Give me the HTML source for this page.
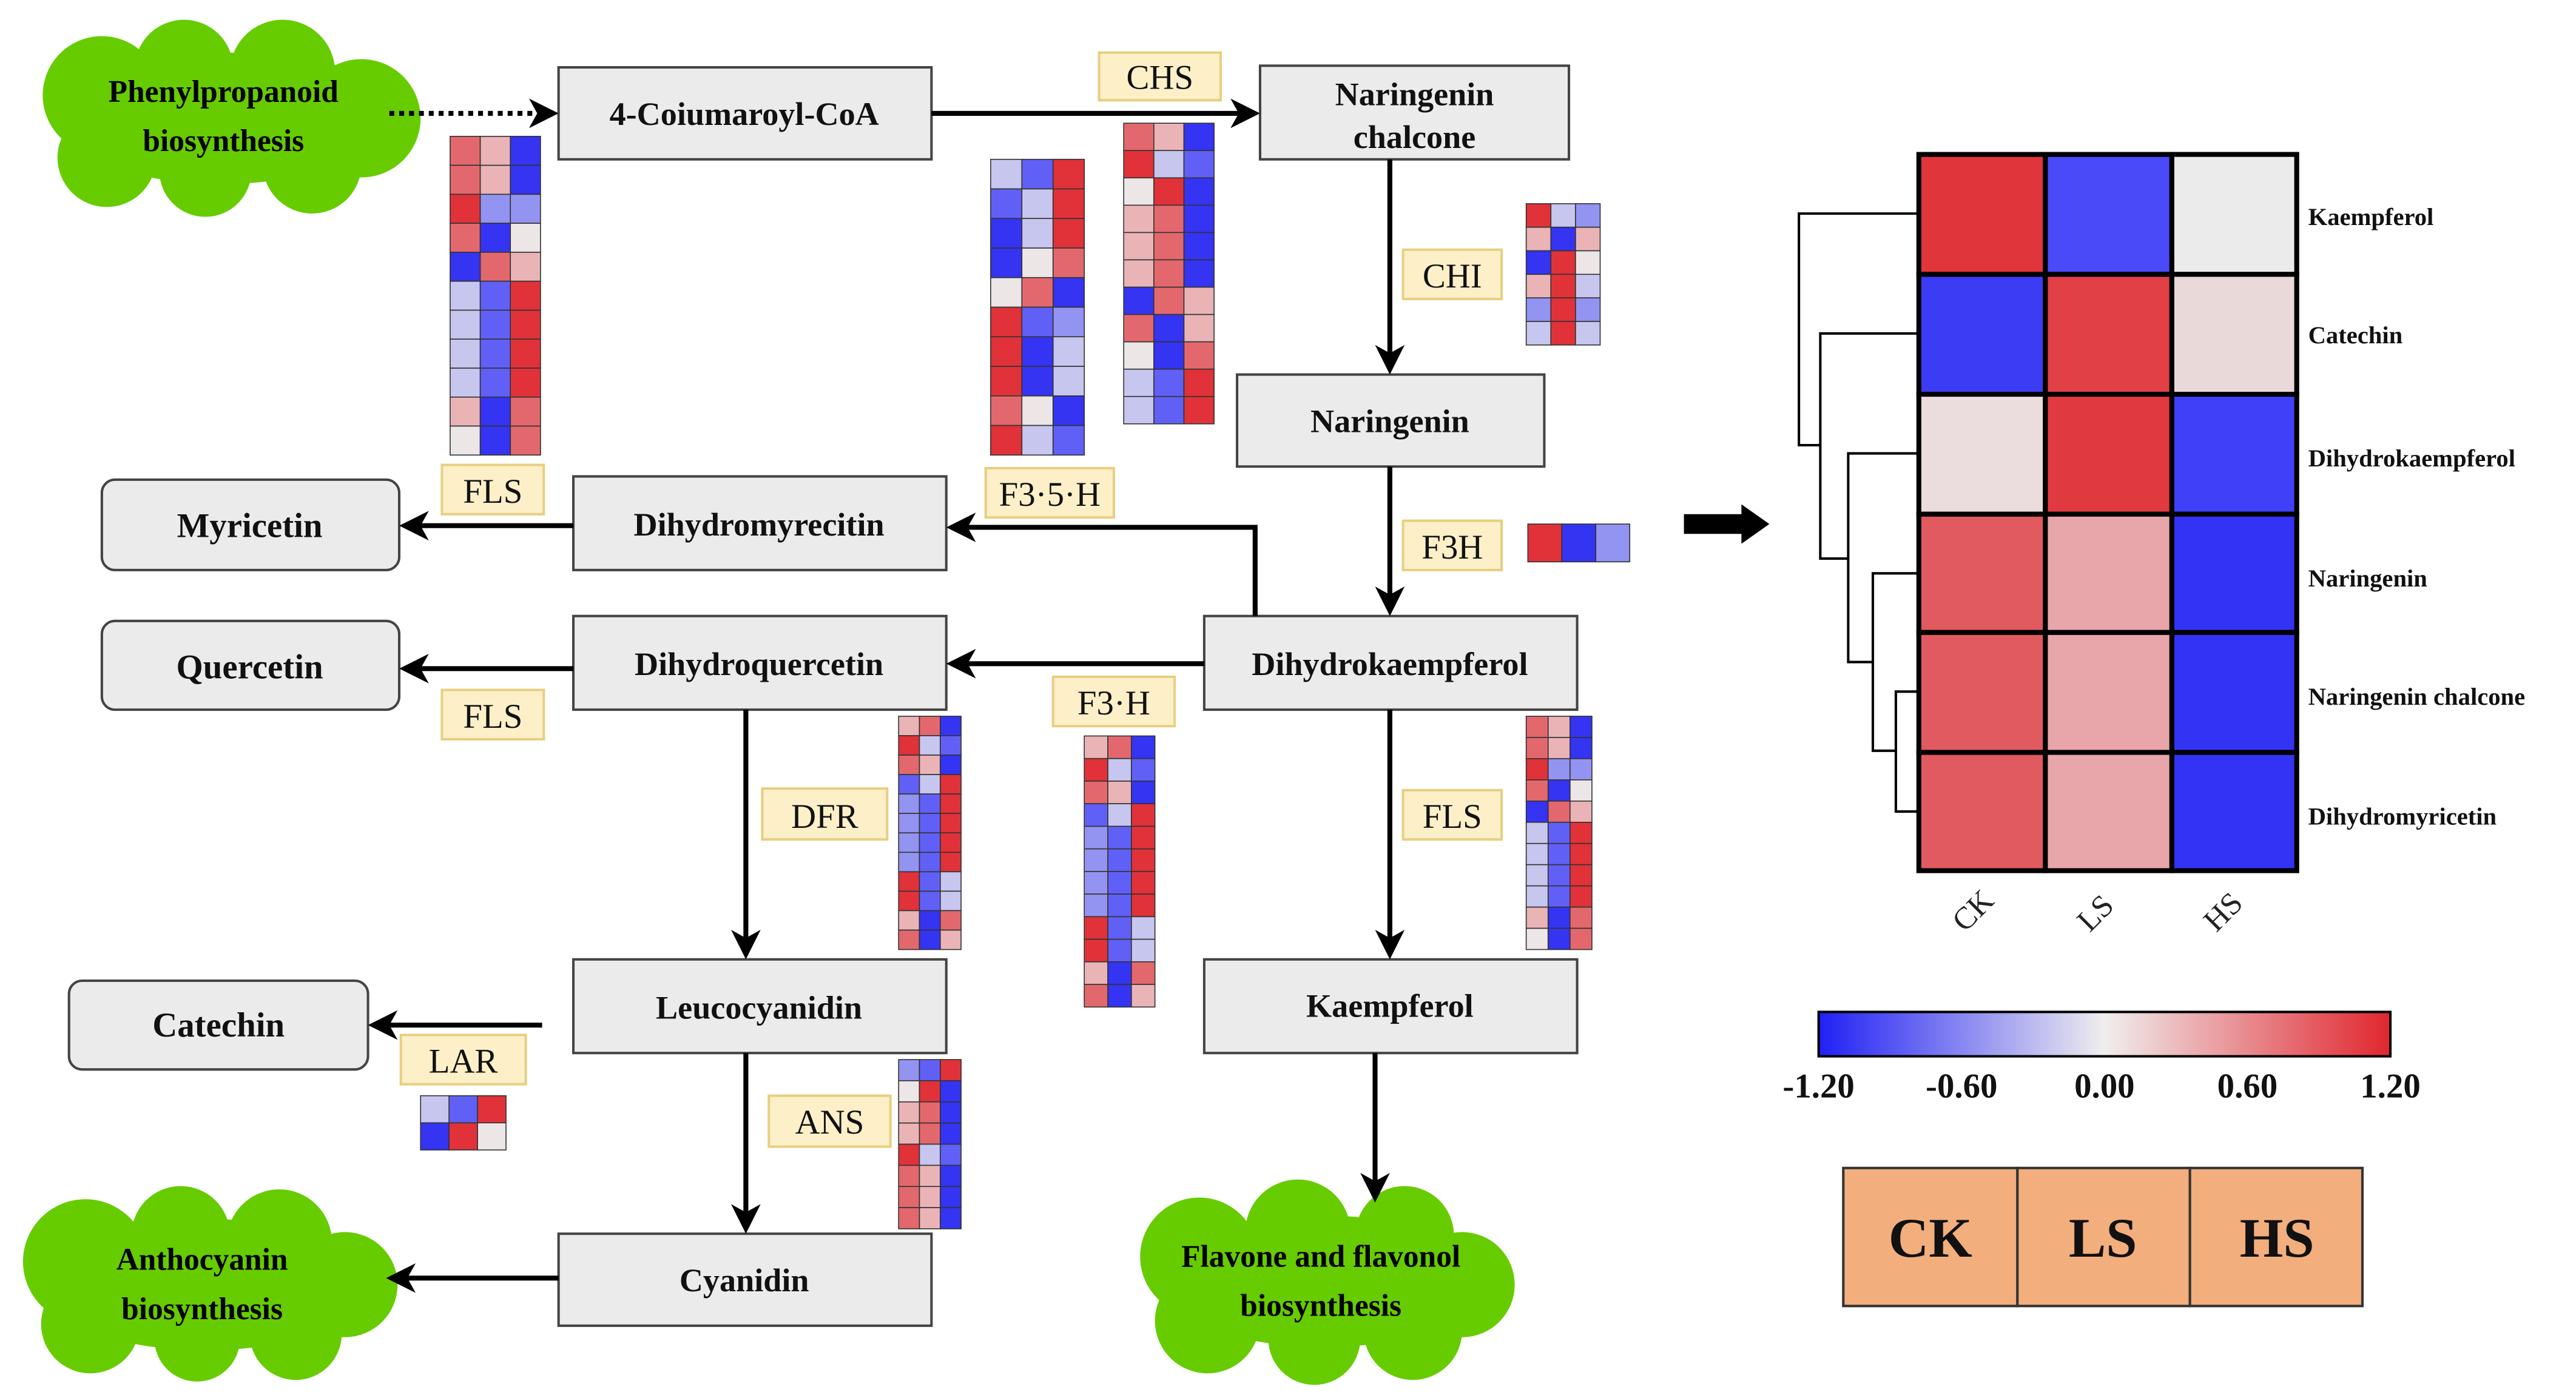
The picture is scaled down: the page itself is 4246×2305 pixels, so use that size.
<!DOCTYPE html>
<html><head><meta charset="utf-8"><style>
html,body{margin:0;padding:0;background:#fff;}
svg{display:block;font-family:"Liberation Serif","DejaVu Serif",serif;}
svg text{font-family:"Liberation Serif","DejaVu Serif",serif;}
</style></head><body>
<svg id="s" width="4246" height="2305" viewBox="0 0 1568 851" preserveAspectRatio="none" xmlns="http://www.w3.org/2000/svg" font-family="Liberation Serif, DejaVu Serif, serif">
<defs>
<linearGradient id="cb" x1="0" x2="1" y1="0" y2="0">
<stop offset="0" stop-color="#2020f5"/><stop offset="0.5" stop-color="#f0eeee"/><stop offset="1" stop-color="#e0262e"/>
</linearGradient>
</defs>
<g fill="#66cc00">
<ellipse cx="135" cy="72" rx="100" ry="40"/>
<circle cx="62" cy="58" r="36"/><circle cx="112" cy="42" r="30"/><circle cx="172" cy="44" r="32"/><circle cx="220" cy="72" r="36"/><circle cx="190" cy="100" r="30"/><circle cx="125" cy="104" r="28"/><circle cx="65" cy="96" r="30"/>
<ellipse cx="125" cy="782" rx="100" ry="40"/>
<circle cx="52" cy="768" r="38"/><circle cx="110" cy="752" r="30"/><circle cx="170" cy="756" r="32"/><circle cx="210" cy="782" r="32"/><circle cx="180" cy="812" r="28"/><circle cx="120" cy="815" r="26"/><circle cx="55" cy="806" r="30"/>
<ellipse cx="806" cy="780" rx="100" ry="40"/>
<circle cx="730" cy="765" r="36"/><circle cx="790" cy="750" r="32"/><circle cx="855" cy="752" r="30"/><circle cx="890" cy="782" r="32"/><circle cx="860" cy="810" r="30"/><circle cx="800" cy="815" r="28"/><circle cx="735" cy="804" r="32"/>
</g>
<g font-weight="bold" font-size="19" text-anchor="middle" fill="#000">
<text x="136" y="62">Phenylpropanoid</text><text x="136" y="92">biosynthesis</text>
<text x="123" y="773">Anthocyanin</text><text x="123" y="803">biosynthesis</text>
<text x="804" y="771">Flavone and flavonol</text><text x="804" y="801">biosynthesis</text>
</g>
<g fill="#ebebeb" stroke="#444" stroke-width="1.5">
<rect x="340" y="41" width="227" height="56"/>
<rect x="767" y="40" width="188" height="57"/>
<rect x="753" y="228" width="187" height="56"/>
<rect x="733" y="375" width="227" height="57"/>
<rect x="349" y="290" width="227" height="57"/>
<rect x="349" y="375" width="227" height="57"/>
<rect x="349" y="584" width="227" height="57"/>
<rect x="733" y="584" width="227" height="57"/>
<rect x="340" y="751" width="227" height="56"/>
<rect x="62" y="292" width="181" height="55" rx="8"/>
<rect x="62" y="378" width="181" height="54" rx="8"/>
<rect x="42" y="597" width="182" height="54" rx="8"/>
</g>
<g font-weight="bold" font-size="20" text-anchor="middle" fill="#111">
<text x="453" y="76">4-Coiumaroyl-CoA</text>
<text x="861" y="64">Naringenin</text><text x="861" y="90">chalcone</text>
<text x="846" y="263">Naringenin</text>
<text x="846" y="411">Dihydrokaempferol</text>
<text x="462" y="326">Dihydromyrecitin</text>
<text x="462" y="411">Dihydroquercetin</text>
<text x="462" y="620">Leucocyanidin</text>
<text x="846" y="619">Kaempferol</text>
<text x="453" y="786">Cyanidin</text>
<text x="152" y="327" font-size="21">Myricetin</text>
<text x="152" y="413" font-size="21">Quercetin</text>
<text x="133" y="631" font-size="21">Catechin</text>
</g>
<g fill="#fdf0c8" stroke="#e8cf80" stroke-width="1.5">
<rect x="669" y="32" width="74" height="29"/>
<rect x="854" y="152" width="60" height="30"/>
<rect x="854" y="317" width="60" height="30"/>
<rect x="269" y="283" width="62" height="30"/>
<rect x="269" y="420" width="62" height="30"/>
<rect x="854" y="481" width="60" height="30"/>
<rect x="600" y="285" width="78" height="30"/>
<rect x="641" y="412" width="74" height="30"/>
<rect x="464" y="480" width="76" height="31"/>
<rect x="244" y="630" width="76" height="30"/>
<rect x="468" y="667" width="74" height="31"/>
</g>
<g font-size="21" text-anchor="middle" fill="#111">
<text x="706" y="54">CHS</text>
<text x="884" y="175">CHI</text>
<text x="884" y="340">F3H</text>
<text x="300" y="306">FLS</text>
<text x="300" y="443">FLS</text>
<text x="884" y="504">FLS</text>
<text x="639" y="308">F3·5·H</text>
<text x="678" y="435">F3·H</text>
<text x="502" y="504">DFR</text>
<text x="282" y="653">LAR</text>
<text x="505" y="690">ANS</text>
</g>
<g stroke="#000" stroke-width="3" fill="none">
<line x1="237" y1="69" x2="330" y2="69" stroke-dasharray="3,3"/>
<line x1="567" y1="69" x2="757" y2="69"/>
<line x1="846" y1="97" x2="846" y2="218"/>
<line x1="846" y1="284" x2="846" y2="365"/>
<line x1="733" y1="404" x2="586" y2="404"/>
<polyline points="764,375 764,321 586,321"/>
<line x1="349" y1="320" x2="253" y2="320"/>
<line x1="349" y1="407" x2="253" y2="407"/>
<line x1="454" y1="432" x2="454" y2="574"/>
<line x1="846" y1="432" x2="846" y2="574"/>
<line x1="330" y1="624" x2="234" y2="624"/>
<line x1="454" y1="641" x2="454" y2="741"/>
<line x1="340" y1="778" x2="245" y2="778"/>
<line x1="837" y1="641" x2="837" y2="722"/>
</g>
<g fill="#000">
<polygon points="340,69 322,60 327,69 322,78"/>
<polygon points="767,69 749,60 754,69 749,78"/>
<polygon points="846,228 837,210 846,215 855,210"/>
<polygon points="846,375 837,357 846,362 855,357"/>
<polygon points="576,404 594,395 589,404 594,413"/>
<polygon points="576,321 594,312 589,321 594,330"/>
<polygon points="243,320 261,311 256,320 261,329"/>
<polygon points="243,407 261,398 256,407 261,416"/>
<polygon points="454,584 445,566 454,571 463,566"/>
<polygon points="846,584 837,566 846,571 855,566"/>
<polygon points="224,624 242,615 237,624 242,633"/>
<polygon points="454,751 445,733 454,738 463,733"/>
<polygon points="235,778 253,769 248,778 253,787"/>
<polygon points="837,732 828,714 837,719 846,714"/>
<polygon points="1025,313 1060,313 1060,307 1077,319 1060,331 1060,325 1025,325"/>
</g>
<g id="hm"></g>
<g stroke="#000" stroke-width="1.5" fill="none">
<polyline points="1168,130 1095,130 1095,271 1108,271"/>
<polyline points="1168,203 1108,203 1108,340 1125,340"/>
<polyline points="1168,276 1125,276 1125,403 1140,403"/>
<polyline points="1168,349 1140,349 1140,457 1154,457"/>
<polyline points="1168,421 1154,421 1154,494 1168,494"/>
</g>
<g stroke="#000" stroke-width="3">
<rect x="1168" y="94" width="77" height="73" fill="#e0353b"/><rect x="1245" y="94" width="77" height="73" fill="#4a4af8"/><rect x="1322" y="94" width="76" height="73" fill="#ebebeb"/>
<rect x="1168" y="167" width="77" height="73" fill="#3c3cf5"/><rect x="1245" y="167" width="77" height="73" fill="#e04046"/><rect x="1322" y="167" width="76" height="73" fill="#ead9d9"/>
<rect x="1168" y="240" width="77" height="73" fill="#ebdddd"/><rect x="1245" y="240" width="77" height="73" fill="#e03a40"/><rect x="1322" y="240" width="76" height="73" fill="#4040f8"/>
<rect x="1168" y="313" width="77" height="72" fill="#e05a60"/><rect x="1245" y="313" width="77" height="72" fill="#e8a6aa"/><rect x="1322" y="313" width="76" height="72" fill="#3333f5"/>
<rect x="1168" y="385" width="77" height="73" fill="#e05a60"/><rect x="1245" y="385" width="77" height="73" fill="#e8a6aa"/><rect x="1322" y="385" width="76" height="73" fill="#3333f5"/>
<rect x="1168" y="458" width="77" height="72" fill="#e05a60"/><rect x="1245" y="458" width="77" height="72" fill="#e8a6aa"/><rect x="1322" y="458" width="76" height="72" fill="#3333f5"/>
</g>
<g font-weight="bold" font-size="15" fill="#111">
<text x="1405" y="137">Kaempferol</text>
<text x="1405" y="209">Catechin</text>
<text x="1405" y="284">Dihydrokaempferol</text>
<text x="1405" y="357">Naringenin</text>
<text x="1405" y="429">Naringenin chalcone</text>
<text x="1405" y="502">Dihydromyricetin</text>
</g>
<g font-size="19" fill="#222">
<text transform="translate(1196,568) rotate(-45)">CK</text>
<text transform="translate(1272,568) rotate(-45)">LS</text>
<text transform="translate(1349,568) rotate(-45)">HS</text>
</g>
<rect x="1107" y="616" width="348" height="27" fill="url(#cb)" stroke="#000" stroke-width="1.5"/>
<g font-weight="bold" font-size="21" text-anchor="middle" fill="#111">
<text x="1107" y="668">-1.20</text><text x="1194" y="668">-0.60</text><text x="1281" y="668">0.00</text><text x="1368" y="668">0.60</text><text x="1455" y="668">1.20</text>
</g>
<g fill="#f2ae7c" stroke="#333" stroke-width="1.5">
<rect x="1122" y="711" width="106" height="84"/><rect x="1228" y="711" width="105" height="84"/><rect x="1333" y="711" width="105" height="84"/>
</g>
<g font-weight="bold" font-size="34" text-anchor="middle" fill="#111">
<text x="1175" y="765">CK</text><text x="1280" y="765">LS</text><text x="1386" y="765">HS</text>
</g>
</svg>
<script>
var C={R:"#e03238",r:"#e3686d",p:"#eab4b7",w:"#ece6e6",l:"#c6c6ef",m:"#9393f2",B:"#6060f6",b:"#3434f2"};
var H=[
[274,83,55,194,["rpb","rpb","Rmm","rbw","brp","lBR","lBR","lBR","lBR","pbr","wbr"]],
[603,97,57,180,["lBR","BlR","blR","bwr","wrb","RBm","Rbl","Rbl","rwb","RlB"]],
[684,75,55,183,["rpb","RlB","wRb","prb","prb","prb","brp","rbp","wbr","lBR","lBR"]],
[929,124,45,86,["Rlm","pbp","bRw","pRl","mRm","lRl"]],
[930,319,62,23,["Rbm"]],
[547,436,38,142,["prb","RlB","rpb","BlR","mBR","mBR","mBR","mBR","RBl","RBl","pbr","rbp"]],
[660,448,43,165,["prb","RlB","rpb","BlR","mBR","mBR","mBR","mBR","RBl","RBl","pbr","rbp"]],
[929,436,40,142,["rpb","rpb","Rmm","rbw","brp","lBR","lBR","lBR","lBR","pbr","wbr"]],
[547,645,38,103,["mBR","wRb","prb","prb","RlB","rpb","rpb","rpb"]],
[256,667,52,33,["lBR","bRw"]]];
var g=document.getElementById("hm"),s="";
H.forEach(function(h){var x=h[0],y=h[1],w=h[2]/3,rh=h[3]/h[4].length;
h[4].forEach(function(row,i){for(var j=0;j<3;j++){s+='<rect x="'+(x+j*w)+'" y="'+(y+i*rh)+'" width="'+w+'" height="'+rh+'" fill="'+C[row[j]]+'" stroke="#333" stroke-width="0.6"/>';}});});
g.innerHTML=s;
</script>
</body></html>
